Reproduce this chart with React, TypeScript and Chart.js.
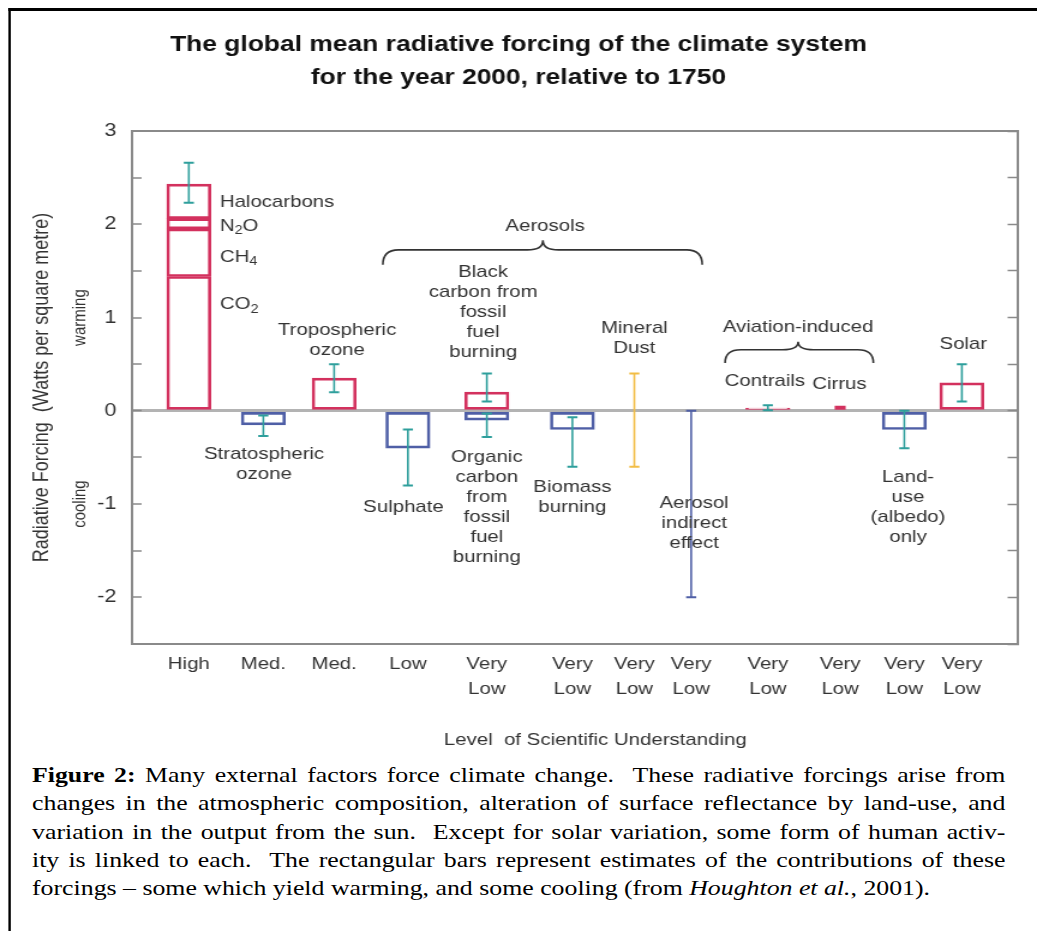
import React, { useEffect, useRef } from 'react';
import { Chart, registerables } from 'chart.js';

Chart.register(...registerables);

// The figure is laid out on a narrower canvas and widened horizontally,
// which gives the lettering its broad, flattened look.
const PAGE_W = 1037;
const INNER_W = 864;
const STRETCH = PAGE_W / INNER_W;
const CANVAS_H = 760;

const SANS = "'Liberation Sans', Arial, Helvetica, sans-serif";
const SERIF = "'Liberation Serif', 'Times New Roman', Times, serif";

// ---------------- data ----------------

// horizontal position of each forcing agent
const factorX = [0.77, 1.78, 2.74, 3.74, 4.81, 5.97, 6.81, 7.58, 8.62, 9.6, 10.47, 11.25];

// level of scientific understanding, one per agent
const understanding = [
  ['High'], ['Med.'], ['Med.'], ['Low'],
  ['Very', 'Low'], ['Very', 'Low'], ['Very', 'Low'], ['Very', 'Low'],
  ['Very', 'Low'], ['Very', 'Low'], ['Very', 'Low'], ['Very', 'Low'],
];

// y axis range (W m-2)
const yMin = -2.5;
const yMax = 3;
const yStep = 0.5;

// well-mixed greenhouse gases, stacked: CO2, CH4, N2O, halocarbons (cumulative tops)
const ghgGases = ['CO2', 'CH4', 'N2O', 'Halocarbons'];
const ghgTops = [1.44, 1.95, 2.06, 2.43];

// positive forcings: tropospheric ozone, black carbon, contrails, solar
const warmingAt = [2, 4, 8, 11];
const warmingValues = [0.35, 0.2, 0.03, 0.3];

// negative forcings: stratospheric ozone, sulphate, organic carbon, biomass burning, land use
const coolingAt = [1, 3, 4, 5, 10];
const coolingValues = [-0.15, -0.4, -0.1, -0.2, -0.2];

// aviation-induced cirrus
const cirrusAt = 9;
const cirrusValue = 0.05;

// uncertainty ranges
const rangeAt = [0, 1, 2, 3, 4, 4, 5, 6, 7, 8, 10, 11];
const rangeLow = [2.23, -0.27, 0.2, -0.8, 0.1, -0.28, -0.6, -0.6, -2.0, 0.005, -0.4, 0.1];
const rangeHigh = [2.66, -0.05, 0.5, -0.2, 0.4, -0.03, -0.07, 0.4, 0.0, 0.06, 0.0, 0.5];

// ---------------- styles ----------------

const RED = '#d3315e';
const BLUE = '#4f5fa6';
const TEAL = '#2e9f9c';
const GOLD = '#f2bd45';
const AXIS = '#8a8a8a';
const ZERO = '#b3b3b3';
const INK = '#333333';

const rangeStroke = [TEAL, TEAL, TEAL, TEAL, TEAL, TEAL, TEAL, GOLD, BLUE, TEAL, TEAL, TEAL];

const BAR_W = 36.7;
const CIRRUS_W = 8.5;
const CAP = 4.2;
const NOTE_FONT = 17;
const NOTE_LINE = 20;

// text placed next to the marks (anchored in axis units)
type Note = { lines: string[]; at: [number, number]; align?: CanvasTextAlign };
const notes: Note[] = [
  { lines: ['Halocarbons'], at: [1.19, 2.24], align: 'left' },
  { lines: ['N_2O'], at: [1.19, 1.98], align: 'left' },
  { lines: ['CH_4'], at: [1.19, 1.65], align: 'left' },
  { lines: ['CO_2'], at: [1.19, 1.14], align: 'left' },
  { lines: ['Tropospheric', 'ozone'], at: [2.78, 0.86] },
  { lines: ['Stratospheric', 'ozone'], at: [1.79, -0.47] },
  { lines: ['Aerosols'], at: [5.6, 1.98] },
  { lines: ['Black', 'carbon from', 'fossil', 'fuel', 'burning'], at: [4.76, 1.49] },
  { lines: ['Mineral', 'Dust'], at: [6.81, 0.88] },
  { lines: ['Sulphate'], at: [3.68, -1.03] },
  { lines: ['Organic', 'carbon', 'from', 'fossil', 'fuel', 'burning'], at: [4.81, -0.5] },
  { lines: ['Biomass', 'burning'], at: [5.97, -0.82] },
  { lines: ['Aerosol', 'indirect', 'effect'], at: [7.62, -0.99] },
  { lines: ['Aviation-induced'], at: [9.03, 0.9] },
  { lines: ['Contrails'], at: [8.58, 0.32] },
  { lines: ['Cirrus'], at: [9.59, 0.28] },
  { lines: ['Land-', 'use', '(albedo)', 'only'], at: [10.52, -0.71] },
  { lines: ['Solar'], at: [11.27, 0.71] },
];

// curly braces grouping the aerosol and aviation agents
const braces = [
  { from: 3.4, to: 7.73, mid: 5.57, tip: 1.83, bar: 1.726, foot: 1.565 },
  { from: 8.04, to: 10.05, mid: 9.03, tip: 0.74, bar: 0.654, foot: 0.514 },
];

// draws a line of text in which "_d" marks a subscript digit
function drawRich(ctx: CanvasRenderingContext2D, text: string, x: number, y: number, align: CanvasTextAlign) {
  const parts: { t: string; sub: boolean }[] = [];
  const re = /_(\d)/g;
  let last = 0;
  let m: RegExpExecArray | null;
  while ((m = re.exec(text))) {
    if (m.index > last) parts.push({ t: text.slice(last, m.index), sub: false });
    parts.push({ t: m[1], sub: true });
    last = m.index + m[0].length;
  }
  if (last < text.length) parts.push({ t: text.slice(last), sub: false });
  const fontMain = `${NOTE_FONT}px ${SANS}`;
  const fontSub = `${Math.round(NOTE_FONT * 0.7)}px ${SANS}`;
  const widths = parts.map((p) => {
    ctx.font = p.sub ? fontSub : fontMain;
    return ctx.measureText(p.t).width;
  });
  const total = widths.reduce((a, b) => a + b, 0);
  let cx = align === 'left' ? x : align === 'right' ? x - total : x - total / 2;
  ctx.textAlign = 'left';
  parts.forEach((p, i) => {
    ctx.font = p.sub ? fontSub : fontMain;
    ctx.fillText(p.t, cx, p.sub ? y + 5 : y);
    cx += widths[i];
  });
}

const overlayPlugin = {
  id: 'forcingOverlay',
  afterDatasetsDraw(chart: any) {
    const { ctx } = chart;
    const xs = chart.scales.x;
    const ys = chart.scales.y;
    ctx.save();
    ctx.lineCap = 'butt';
    rangeAt.forEach((k, i) => {
      const px = xs.getPixelForValue(factorX[k]);
      const lo = ys.getPixelForValue(rangeLow[i]);
      const hi = ys.getPixelForValue(rangeHigh[i]);
      ctx.strokeStyle = rangeStroke[i];
      ctx.lineWidth = 1.6;
      ctx.beginPath();
      ctx.moveTo(px, lo);
      ctx.lineTo(px, hi);
      ctx.stroke();
      ctx.lineWidth = 2;
      ctx.beginPath();
      ctx.moveTo(px - CAP, lo);
      ctx.lineTo(px + CAP, lo);
      ctx.moveTo(px - CAP, hi);
      ctx.lineTo(px + CAP, hi);
      ctx.stroke();
    });
    ctx.restore();
  },
  afterDraw(chart: any) {
    const { ctx } = chart;
    const xs = chart.scales.x;
    const ys = chart.scales.y;
    ctx.save();
    ctx.fillStyle = INK;
    ctx.textBaseline = 'middle';
    notes.forEach((n) => {
      const px = xs.getPixelForValue(n.at[0]);
      const py = ys.getPixelForValue(n.at[1]);
      n.lines.forEach((line, i) => drawRich(ctx, line, px, py + i * NOTE_LINE, n.align || 'center'));
    });

    // braces
    ctx.strokeStyle = INK;
    ctx.lineWidth = 1.6;
    braces.forEach((b) => {
      const x0 = xs.getPixelForValue(b.from);
      const x1 = xs.getPixelForValue(b.to);
      const xm = xs.getPixelForValue(b.mid);
      const yt = ys.getPixelForValue(b.tip);
      const yb = ys.getPixelForValue(b.bar);
      const yf = ys.getPixelForValue(b.foot);
      const r = 13;
      ctx.beginPath();
      ctx.moveTo(x0, yf);
      ctx.quadraticCurveTo(x0, yb, x0 + r, yb);
      ctx.lineTo(xm - r, yb);
      ctx.quadraticCurveTo(xm, yb, xm, yt);
      ctx.quadraticCurveTo(xm, yb, xm + r, yb);
      ctx.lineTo(x1 - r, yb);
      ctx.quadraticCurveTo(x1, yb, x1, yf);
      ctx.stroke();
    });

    // x axis caption
    ctx.font = `17px ${SANS}`;
    ctx.textAlign = 'center';
    ctx.fillText('Level  of Scientific Understanding', xs.getPixelForValue(6.28), ys.getPixelForValue(-3.53));

    // warming / cooling side words
    ctx.font = `15px ${SANS}`;
    [['warming', 1.0], ['cooling', -1.0]].forEach(([word, v]) => {
      ctx.save();
      ctx.translate(xs.getPixelForValue(-0.705), ys.getPixelForValue(v as number));
      ctx.rotate(-Math.PI / 2);
      ctx.fillText(word as string, 0, 0);
      ctx.restore();
    });
    ctx.restore();
  },
};

const barStyle = {
  backgroundColor: 'rgba(0,0,0,0)',
  borderWidth: 2,
  borderSkipped: false,
  barThickness: BAR_W,
  maxBarThickness: BAR_W,
  grouped: false,
  xAxisID: 'x',
  yAxisID: 'y',
};

export default function App() {
  const canvasRef = useRef<HTMLCanvasElement>(null);

  useEffect(() => {
    const canvas = canvasRef.current;
    if (!canvas) return;

    const ghgData = ghgTops.map((top, i) => ({ x: factorX[0], y: [i === 0 ? 0 : ghgTops[i - 1], top] }));
    const datasets: any[] = [
      { ...barStyle, label: 'Greenhouse gases', data: ghgData, borderColor: RED },
      {
        ...barStyle,
        label: 'Warming',
        data: warmingAt.map((k, i) => ({ x: factorX[k], y: [0, warmingValues[i]] })),
        borderColor: RED,
      },
      {
        ...barStyle,
        label: 'Cooling',
        data: coolingAt.map((k, i) => ({ x: factorX[k], y: [coolingValues[i], 0] })),
        borderColor: BLUE,
      },
      {
        ...barStyle,
        label: 'Cirrus',
        data: [{ x: factorX[cirrusAt], y: [0, cirrusValue] }],
        backgroundColor: RED,
        borderColor: RED,
        borderWidth: 0,
        barThickness: CIRRUS_W,
        maxBarThickness: CIRRUS_W,
      },
    ];

    const chart = new Chart(canvas, {
      type: 'bar',
      data: { datasets },
      plugins: [overlayPlugin],
      options: {
        responsive: false,
        maintainAspectRatio: false,
        animation: false,
        devicePixelRatio: 1,
        events: [],
        layout: { padding: 0 },
        font: { family: SANS },
        plugins: {
          legend: { display: false },
          tooltip: { enabled: false },
          title: {
            display: true,
            text: [
              'The global mean radiative forcing of the climate system',
              'for the year 2000, relative to 1750',
            ],
            color: '#111111',
            font: { family: SANS, size: 22, weight: 'bold', lineHeight: 1.5 },
            padding: { top: 28.5, bottom: 36.5 },
          },
        },
        scales: {
          x: {
            type: 'linear',
            position: 'bottom',
            min: 0,
            max: 12,
            offset: false,
            afterFit: (s: any) => {
              s.height = 116;
            },
            afterBuildTicks: (s: any) => {
              s.ticks = factorX.map((v) => ({ value: v }));
            },
            ticks: {
              autoSkip: false,
              maxRotation: 0,
              minRotation: 0,
              padding: 8,
              color: INK,
              font: { family: SANS, size: 17, lineHeight: 25 / 17 },
              callback: (_v: any, i: number) => understanding[i],
            },
            grid: { display: false, drawTicks: false },
            border: { color: AXIS, width: 2 },
          },
          xTop: {
            type: 'linear',
            position: 'top',
            min: 0,
            max: 12,
            afterFit: (s: any) => {
              s.height = 0;
            },
            ticks: { display: false },
            grid: { display: false, drawTicks: false },
            border: { color: AXIS, width: 2 },
          },
          y: {
            type: 'linear',
            position: 'left',
            min: yMin,
            max: yMax,
            afterFit: (s: any) => {
              s.width = 110;
            },
            ticks: {
              stepSize: yStep,
              autoSkip: false,
              padding: 21,
              color: INK,
              font: { family: SANS, size: 18 },
              callback: (v: any) => (Number.isInteger(v) ? String(v) : ''),
            },
            grid: {
              drawOnChartArea: true,
              drawTicks: true,
              tickLength: -8,
              tickColor: AXIS,
              tickWidth: 1.5,
              color: (c: any) => (c.tick && c.tick.value === 0 ? ZERO : 'rgba(0,0,0,0)'),
              lineWidth: (c: any) => (c.tick && c.tick.value === 0 ? 3 : 0),
            },
            border: { color: AXIS, width: 2 },
            title: {
              display: true,
              text: 'Radiative Forcing  (Watts per square metre)',
              color: INK,
              font: { family: SANS, size: 18 },
              padding: { top: 24, bottom: 0 },
            },
          },
          y2: {
            type: 'linear',
            position: 'right',
            min: yMin,
            max: yMax,
            afterFit: (s: any) => {
              s.width = INNER_W - 847.5;
            },
            ticks: { display: false, stepSize: yStep },
            grid: {
              drawOnChartArea: false,
              drawTicks: true,
              tickLength: -8,
              tickColor: AXIS,
              tickWidth: 1.5,
            },
            border: { color: AXIS, width: 2 },
          },
        },
      } as any,
    });

    return () => chart.destroy();
  }, []);

  const justified: React.CSSProperties = { textAlign: 'justify', textAlignLast: 'justify' };

  return (
    <div
      style={{
        position: 'absolute',
        left: 0,
        top: 0,
        width: INNER_W,
        height: 931,
        overflow: 'hidden',
        background: '#ffffff',
        transform: `scaleX(${STRETCH})`,
        transformOrigin: '0 0',
      }}
    >
      <canvas
        ref={canvasRef}
        width={INNER_W}
        height={CANVAS_H}
        style={{ position: 'absolute', left: 0, top: 0, width: INNER_W, height: CANVAS_H }}
      />
      {/* frame around figure and caption */}
      <div style={{ position: 'absolute', left: 6.7, top: 8, width: INNER_W - 6.7, height: 3, background: '#000' }} />
      <div style={{ position: 'absolute', left: 6.7, top: 8, width: 2.5, height: 931 - 8, background: '#000' }} />
      <div
        style={{
          position: 'absolute',
          left: 26.7,
          top: 761,
          width: 811,
          fontFamily: SERIF,
          fontSize: 21.5,
          lineHeight: '28.3px',
          color: '#000',
        }}
      >
        <div style={justified}>
          <b>Figure 2:</b> Many external factors force climate change.&nbsp; These radiative forcings arise from
        </div>
        <div style={justified}>
          changes in the atmospheric composition, alteration of surface reflectance by land-use, and
        </div>
        <div style={justified}>
          variation in the output from the sun.&nbsp; Except for solar variation, some form of human activ-
        </div>
        <div style={justified}>
          ity is linked to each.&nbsp; The rectangular bars represent estimates of the contributions of these
        </div>
        <div>
          forcings – some which yield warming, and some cooling (from <i>Houghton et al.</i>, 2001).
        </div>
      </div>
    </div>
  );
}
